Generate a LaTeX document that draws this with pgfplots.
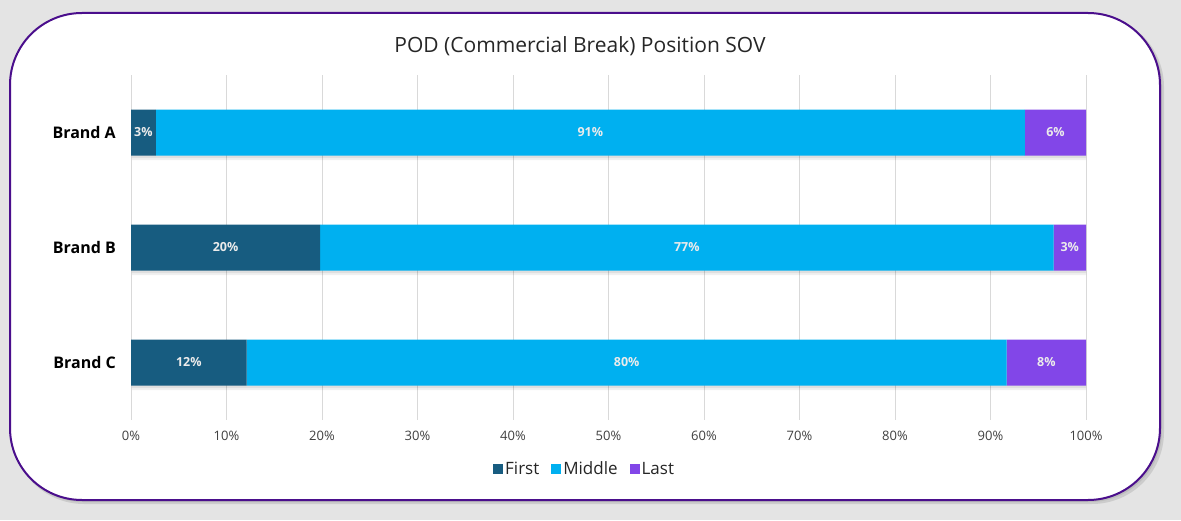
\documentclass[border=0pt]{standalone}
\usepackage{fontspec}
\setmainfont{Open Sans}
\usepackage{pgfplots}
\pgfplotsset{compat=1.18}
\usepackage{pgfplotstable}
\definecolor{cFirst}{HTML}{175C80}
\definecolor{cMiddle}{HTML}{00B0F0}
\definecolor{cLast}{HTML}{8246E8}
\definecolor{cBorder}{HTML}{4A0E8C}
\definecolor{cBg}{HTML}{E4E4E4}
\definecolor{cGrid}{HTML}{D9D9D9}
\definecolor{cText}{HTML}{404040}
\pgfplotstableread{
y First Middle Last
0 2.6 91.0 6.4
1 19.8 76.8 3.4
2 12.1 79.6 8.3
}\data
\pgfplotsset{common/.style={
  at={(131pt,100pt)}, anchor=south west,
  scale only axis, width=955pt, height=345pt,
  xmin=0, xmax=100, ymin=-0.5, ymax=2.5, y dir=reverse,
}}
\begin{document}
\begin{tikzpicture}[x=1pt,y=1pt]
\useasboundingbox (0,0) rectangle (1181,520);
\fill[cBg] (0,0) rectangle (1181,520);
\fill[black,opacity=0.10,rounded corners=72pt] (12,16) rectangle (1164,505);
\fill[black,opacity=0.08,rounded corners=72pt] (11,18) rectangle (1162,506);
\draw[cBorder, line width=2pt, fill=white, rounded corners=72pt] (10,20) rectangle (1160,507);
\node[font=\fontsize{21}{25}\selectfont, text=black!85] at (580,474) {POD (Commercial Break) Position SOV};
% grid + bar shadows
\begin{axis}[common, xbar, bar width=46pt, axis line style={draw=none}, tick style={draw=none},
  xtick={0,10,...,100}, ytick=\empty, xticklabels={},
  xmajorgrids, major grid style={cGrid, line width=0.8pt}]
\addplot[fill=black, opacity=0.06, draw=none, bar shift=0pt, yshift=-4.5pt, xshift=1pt] table[x expr=\thisrow{First}+\thisrow{Middle}+\thisrow{Last}, y=y] {\data};
\addplot[fill=black, opacity=0.07, draw=none, bar shift=0pt, yshift=-2.5pt, xshift=0.5pt] table[x expr=\thisrow{First}+\thisrow{Middle}+\thisrow{Last}, y=y] {\data};
\end{axis}
\begin{axis}[
  common,
  xbar stacked, bar width=46pt,
  ytick={0,1,2}, yticklabels={Brand A,Brand B,Brand C},
  xtick={0,10,...,100},
  xticklabel={\pgfmathprintnumber{\tick}\%},
  /pgf/number format/assume math mode=true,
  axis line style={draw=none},
  tick style={draw=none},
  xticklabel style={font=\fontsize{13}{15}\selectfont, text=cText, inner sep=0pt, anchor=north, yshift=-11pt},
  yticklabel style={font=\bfseries\fontsize{16}{18}\selectfont, text=black, inner sep=0pt, anchor=east, xshift=-15pt},
  point meta=explicit,
  nodes near coords={\pgfmathprintnumber[fixed,precision=0]{\pgfplotspointmeta}\%},
  nodes near coords style={font=\bfseries\fontsize{12.5}{14}\selectfont, text=white!92!black, anchor=center},
  legend style={at={(0.475,-0.142)}, anchor=center, draw=none, fill=none, legend columns=3,
    font=\fontsize{17}{19}\selectfont, text=black!85,
    /tikz/every even column/.append style={column sep=10pt}},
  legend image code/.code={\fill[#1] (-2pt,-5pt) rectangle (8pt,5pt);},
]
\addplot[fill=cFirst, draw=none] table[x=First, y=y, meta=First] {\data};
\addplot[fill=cMiddle, draw=none] table[x=Middle, y=y, meta=Middle] {\data};
\addplot[fill=cLast, draw=none] table[x=Last, y=y, meta=Last] {\data};
\legend{First, Middle, Last}
\end{axis}
\end{tikzpicture}
\end{document}
